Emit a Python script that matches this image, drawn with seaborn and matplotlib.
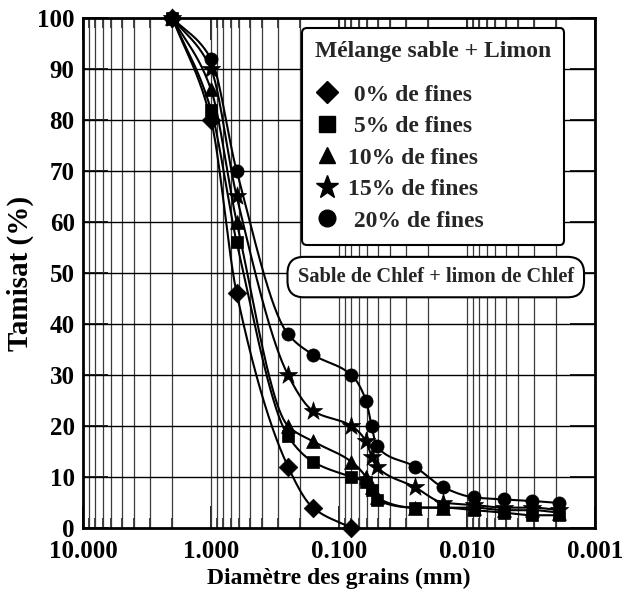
import numpy as np
import pandas as pd
import seaborn as sns
import matplotlib
matplotlib.use("Agg")
import matplotlib.pyplot as plt
from matplotlib.ticker import FixedLocator, FuncFormatter, NullFormatter
from matplotlib.lines import Line2D

# ---------------- data ----------------
sieve_d = [2.0, 1.0, 0.63, 0.25, 0.16, 0.08]
hydro_d = [0.0615, 0.0556, 0.0507, 0.0255, 0.0154, 0.0088, 0.0051, 0.0031, 0.0019]

p0 = [100, 80, 46, 12, 4, 0]
p5 = [100, 82, 56, 18, 13, 10, 9, 7.5, 5.5, 4, 4, 3.5, 3, 2.5, 2.5]
p10 = [100, 86, 60, 20, 17, 13, 10, 8, 6, 4, 4, 4, 3.5, 3.5, 3]
p15 = [100, 90, 65, 30, 23, 20, 17, 14, 12, 8, 5, 4.5, 4, 4, 3.5]
p20 = [100, 92, 70, 38, 34, 30, 25, 20, 16, 12, 8, 6, 5.6, 5.3, 4.9]

labels = [" 0% de fines", " 5% de fines", "10% de fines", "15% de fines", " 20% de fines"]
markers = ["D", "s", "^", "*", "o"]
x_ticks = [10, 1, 0.1, 0.01, 0.001]
y_ticks = list(range(0, 101, 10))

series = [
    (sieve_d, p0),
    (sieve_d + hydro_d, p5),
    (sieve_d + hydro_d, p10),
    (sieve_d + hydro_d, p15),
    (sieve_d + hydro_d, p20),
]


def pchip(xk, yk, xn):
    xk = np.asarray(xk, float); yk = np.asarray(yk, float)
    h = np.diff(xk); d = np.diff(yk) / h
    n = len(xk)
    m = np.zeros(n)
    for k in range(1, n - 1):
        if d[k - 1] * d[k] > 0:
            w1 = 2 * h[k] + h[k - 1]; w2 = h[k] + 2 * h[k - 1]
            m[k] = (w1 + w2) / (w1 / d[k - 1] + w2 / d[k])
    m[0] = d[0]; m[-1] = d[-1]
    out = np.empty_like(xn)
    for i, x in enumerate(xn):
        k = min(max(np.searchsorted(xk, x) - 1, 0), n - 2)
        t = (x - xk[k]) / h[k]
        h00 = 2 * t**3 - 3 * t**2 + 1; h10 = t**3 - 2 * t**2 + t
        h01 = -2 * t**3 + 3 * t**2; h11 = t**3 - t**2
        out[i] = h00 * yk[k] + h10 * h[k] * m[k] + h01 * yk[k + 1] + h11 * h[k] * m[k + 1]
    return out


sns.set_theme(style="white")
plt.rcParams["font.family"] = ["Liberation Serif", "DejaVu Serif"]
plt.rcParams["font.weight"] = "bold"

fig = plt.figure(figsize=(6.23, 6.0), dpi=100)
ax = fig.add_axes([83 / 623, 72 / 600, 512 / 623, 510 / 600])

ax.set_xscale("log")
ax.set_xlim(10, 0.001)
ax.set_ylim(0, 100)

# grid
for dec in [1, 0.1, 0.01, 0.001]:
    for k in range(1, 10):
        v = dec * k
        if 0.001 <= v <= 10:
            ax.axvline(v, color="#3a3a3a", lw=0.9, zorder=1)
for yv in y_ticks[1:-1]:
    ax.axhline(yv, color="black", lw=1.0, zorder=1)

sizes = [90, 80, 100, 190, 90]
for (xd, yd), lab, mk, s in zip(series, labels, markers, sizes):
    u = -np.log10(np.array(xd))
    un = np.linspace(u[0], u[-1], 400)
    yn = pchip(u, yd, un)
    sm = pd.DataFrame({"d": 10 ** (-un), "p": yn})
    sns.lineplot(data=sm, x="d", y="p", sort=False, estimator=None, color="black", lw=1.5, ax=ax, zorder=3)
    pts = pd.DataFrame({"d": xd, "p": yd})
    sns.scatterplot(data=pts, x="d", y="p", marker=mk, s=s, color="black", edgecolor="black", linewidth=0.5, ax=ax, zorder=4, clip_on=False)

ax.xaxis.set_major_locator(FixedLocator(x_ticks))
ax.xaxis.set_major_formatter(FuncFormatter(lambda v, p: f"{v:.3f}"))
ax.xaxis.set_minor_formatter(NullFormatter())
ax.set_yticks(y_ticks)

ax.tick_params(axis="x", which="major", direction="in", length=16, width=1.2, top=True, bottom=True, labelsize=18, pad=9, colors="black")
ax.tick_params(axis="x", which="minor", direction="in", length=7, width=1.2, top=True, bottom=True)
ax.tick_params(axis="y", which="major", direction="in", length=18, width=1.2, left=True, right=True, labelsize=18, pad=6, colors="black")
for lab in ax.get_xticklabels() + ax.get_yticklabels():
    lab.set_fontweight("bold")

for sp in ax.spines.values():
    sp.set_color("black"); sp.set_linewidth(2.0); sp.set_visible(True)

ax.set_xlabel("Diamètre des grains (mm)", fontsize=17, fontweight="bold", labelpad=3, color="black")
ax.set_ylabel("Tamisat (%)", fontsize=21, fontweight="bold", labelpad=2, color="black")

handles = [Line2D([], [], ls="none", marker=m, color="black", markersize=ms)
           for m, ms in zip(markers, [11, 11, 12, 17, 12])]
leg = ax.legend(handles, labels, title="Mélange sable + Limon", loc="upper left",
                bbox_to_anchor=(219 / 512, 1 - 10 / 510), frameon=True, fancybox=True,
                prop={"weight": "bold", "size": 17}, title_fontproperties={"weight": "bold", "size": 17},
                handletextpad=0.4, labelspacing=0.42, borderpad=0.55, handlelength=1.0,
                framealpha=1, edgecolor="black", borderaxespad=0)
leg.get_frame().set_linewidth(1.5)
leg._legend_box.align = "left"
leg._legend_box.sep = 16
leg.set_zorder(10)

ax.text(0.689, 0.492, "Sable de Chlef + limon de Chlef", transform=ax.transAxes,
        ha="center", va="center", fontsize=14.7, fontweight="bold", zorder=10,
        bbox=dict(boxstyle="round,pad=0.5,rounding_size=0.8", fc="white", ec="black", lw=1.5))

fig.savefig("out.png", dpi=100)
